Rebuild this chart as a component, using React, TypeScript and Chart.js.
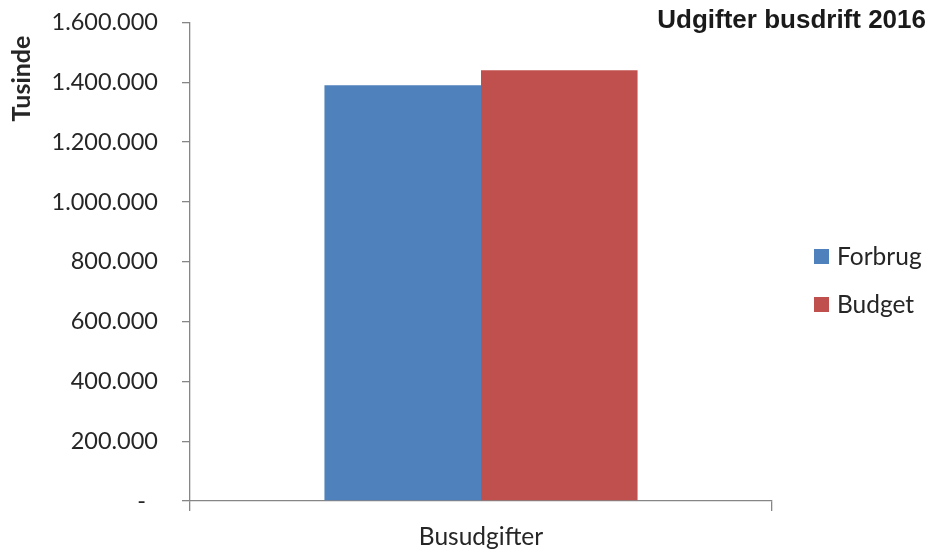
import React, { useEffect, useRef } from "react";
import { Chart, registerables } from "chart.js";

Chart.register(...registerables);

const categories: string[] = ["Busudgifter"];
const seriesNames: string[] = ["Forbrug", "Budget"];
const forbrugValues: number[] = [1390000];
const budgetValues: number[] = [1440000];
const yTickValues: number[] = [0, 200000, 400000, 600000, 800000, 1000000, 1200000, 1400000, 1600000];
const chartTitle = "Udgifter busdrift 2016";
const yAxisTitle = "Tusinde";

const BLUE = "#4F81BD";
const RED = "#C0504D";
const AXIS = "#868686";
const TEXT = "#262626";
const FONT = "Lato, 'Open Sans', sans-serif";

function fmt(v: number): string {
  if (v === 0) return "-  ";
  return v.toString().replace(/\B(?=(\d{3})+(?!\d))/g, ".");
}

const overlayPlugin = {
  id: "overlay",
  afterDraw(chart: any) {
    const ctx = chart.ctx as CanvasRenderingContext2D;
    ctx.save();
    // title
    ctx.fillStyle = "#1a1a1a";
    ctx.font = "bold 26px 'Liberation Sans', Arial, sans-serif";
    ctx.textAlign = "right";
    ctx.textBaseline = "alphabetic";
    ctx.fillText(chartTitle, 926, 28);
    // y title
    ctx.save();
    ctx.translate(30, 78.5);
    ctx.rotate(-Math.PI / 2);
    ctx.fillStyle = TEXT;
    ctx.font = `bold 25px ${FONT}`;
    ctx.textAlign = "center";
    ctx.textBaseline = "alphabetic";
    ctx.fillText(yAxisTitle, 0, 0);
    ctx.restore();
    // legend
    const ds = chart.data.datasets;
    const itemY = [256.5, 304.5];
    ds.forEach((d: any, i: number) => {
      const cy = itemY[i];
      ctx.fillStyle = d.backgroundColor;
      ctx.fillRect(814, cy - 7.5, 15, 15);
      ctx.fillStyle = TEXT;
      ctx.font = `24.5px ${FONT}`;
      ctx.textAlign = "left";
      ctx.textBaseline = "alphabetic";
      ctx.fillText(d.label, 837, cy + 8.5);
    });
    ctx.restore();
  },
};

export default function App() {
  const ref = useRef<HTMLCanvasElement | null>(null);
  useEffect(() => {
    if (!ref.current) return;
    const chart = new Chart(ref.current, {
      type: "bar",
      data: {
        labels: categories,
        datasets: [
          { label: seriesNames[0], data: forbrugValues, backgroundColor: BLUE, borderWidth: 0 },
          { label: seriesNames[1], data: budgetValues, backgroundColor: RED, borderWidth: 0 },
        ],
      },
      options: {
        responsive: false,
        animation: false,
        categoryPercentage: 0.538,
        barPercentage: 1,
        layout: { padding: { left: 0, right: 161, top: 22.5, bottom: 0 } },
        plugins: {
          legend: { display: false },
          title: { display: false },
          tooltip: { enabled: false },
        },
        scales: {
          x: {
            grid: {
              display: true,
              drawOnChartArea: false,
              drawTicks: true,
              tickLength: 10,
              color: AXIS,
              lineWidth: 1.3,
              offset: true,
            },
            border: { display: true, color: AXIS, width: 1.3 },
            ticks: {
              color: TEXT,
              font: { family: FONT, size: 24.5 },
              padding: 11,
            },
            afterFit: (s: any) => {
              s.height = 49;
            },
          },
          y: {
            min: 0,
            max: 1600000,
            afterBuildTicks: (s: any) => {
              s.ticks = yTickValues.map((v) => ({ value: v }));
            },
            grid: {
              display: true,
              drawOnChartArea: false,
              drawTicks: true,
              tickLength: 8,
              color: AXIS,
              lineWidth: 1.3,
            },
            border: { display: true, color: AXIS, width: 1.3 },
            ticks: {
              color: TEXT,
              font: { family: FONT, size: 23.5 },
              padding: 24,
              callback: (v: any) => fmt(Number(v)),
            },
            afterFit: (s: any) => {
              s.width = 190;
              s.paddingTop = 12;
              s.paddingBottom = 12;
            },
          },
        },
      },
      plugins: [overlayPlugin],
    });
    return () => chart.destroy();
  }, []);
  return (
    <div style={{ position: "absolute", left: 0, top: 0, width: 933, height: 550, background: "#fff" }}>
      <canvas ref={ref} width={933} height={550} style={{ display: "block" }} />
    </div>
  );
}
